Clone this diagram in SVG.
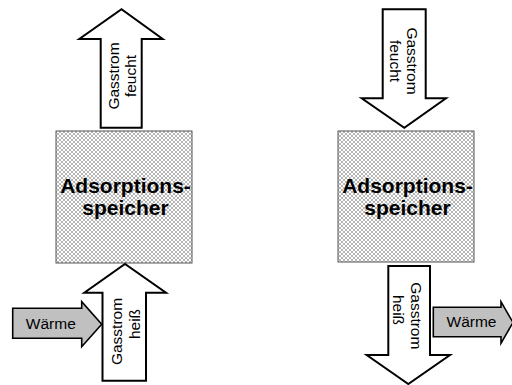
<svg xmlns="http://www.w3.org/2000/svg" width="512" height="385" viewBox="0 0 512 385">
  <defs>
    <pattern id="crosshatch" patternUnits="userSpaceOnUse" width="4" height="4">
      <rect width="4" height="4" fill="#ffffff"/>
      <path d="M0,0 L4,4 M4,0 L0,4" stroke="#8c8c8c" stroke-width="0.65"/>
    </pattern>
  </defs>
  <style>
    .store { fill: url(#crosshatch); stroke: #555555; stroke-width: 1; }
    .store-label { font-family: "Liberation Sans", Arial, sans-serif; font-size: 21px; font-weight: bold; fill: #000000; text-anchor: middle; }
    .flow { fill: #ffffff; stroke: #000000; stroke-width: 2; stroke-linejoin: miter; }
    .heat { fill: #c0c0c0; stroke: #000000; stroke-width: 1.6; stroke-linejoin: miter; }
    .label { font-family: "Liberation Sans", Arial, sans-serif; font-size: 15.5px; fill: #000000; text-anchor: middle; }
  </style>

  <!-- Left: charging -->
  <g id="store-left">
    <rect class="store" x="56" y="131" width="136" height="132"/>
    <text class="store-label" x="125.5" y="193">Adsorptions-</text>
    <text class="store-label" x="125.5" y="214.5">speicher</text>
  </g>

  <g id="connectors">
    <!-- gas out, top left -->
    <g id="gas-out-left">
      <polygon class="flow" points="100.7,127.7 100.7,39 79.3,39 121.5,9.3 162.7,39 141.7,39 141.7,127.7"/>
      <g transform="translate(118.7,76) rotate(-90)">
        <text class="label" x="0" y="0">Gasstrom</text>
        <text class="label" x="0" y="17">feucht</text>
      </g>
    </g>
    <!-- gas in, bottom left -->
    <g id="gas-in-left">
      <polygon class="flow" points="102.5,380.7 102.5,292.7 84.3,292.7 125,264 166,292.7 146,292.7 146,380.7"/>
      <g transform="translate(122.3,0) rotate(-90)">
        <text class="label" x="-331.5" y="0">Gasstrom</text>
        <text class="label" x="-324" y="17.7">heiß</text>
      </g>
    </g>
    <!-- heat in, bottom left -->
    <g id="heat-in-left">
      <polygon class="heat" points="12.7,308.3 81.7,308.3 81.7,301.7 101.7,324.3 81.7,346.7 81.7,338.3 12.7,338.3"/>
      <text class="label" x="50.8" y="328.5">Wärme</text>
    </g>

    <!-- gas in, top right -->
    <g id="gas-in-right">
      <polygon class="flow" points="382.7,9.3 425.7,9.3 425.7,98.3 446,98.3 404.3,127.7 361.7,98.3 382.7,98.3"/>
      <g transform="translate(407.3,61) rotate(90)">
        <text class="label" x="0" y="0">Gasstrom</text>
        <text class="label" x="0" y="17">feucht</text>
      </g>
    </g>
    <!-- gas out, bottom right -->
    <g id="gas-out-right">
      <polygon class="flow" points="388.3,266 430,266 430,355 450,355 408.3,384 366.7,355 388.3,355"/>
      <g transform="translate(411,0) rotate(90)">
        <text class="label" x="315.8" y="0">Gasstrom</text>
        <text class="label" x="310" y="17.7">heiß</text>
      </g>
    </g>
    <!-- heat out, bottom right -->
    <g id="heat-out-right">
      <polygon class="heat" points="433.3,307.3 501,307.3 501,301.7 513,322.5 501,343.3 501,336.7 433.3,336.7"/>
      <text class="label" x="471.5" y="327">Wärme</text>
    </g>
  </g>

  <!-- Right: discharging -->
  <g id="store-right">
    <rect class="store" x="338" y="131" width="136" height="131"/>
    <text class="store-label" x="407.5" y="193">Adsorptions-</text>
    <text class="store-label" x="407.5" y="214.5">speicher</text>
  </g>
</svg>
